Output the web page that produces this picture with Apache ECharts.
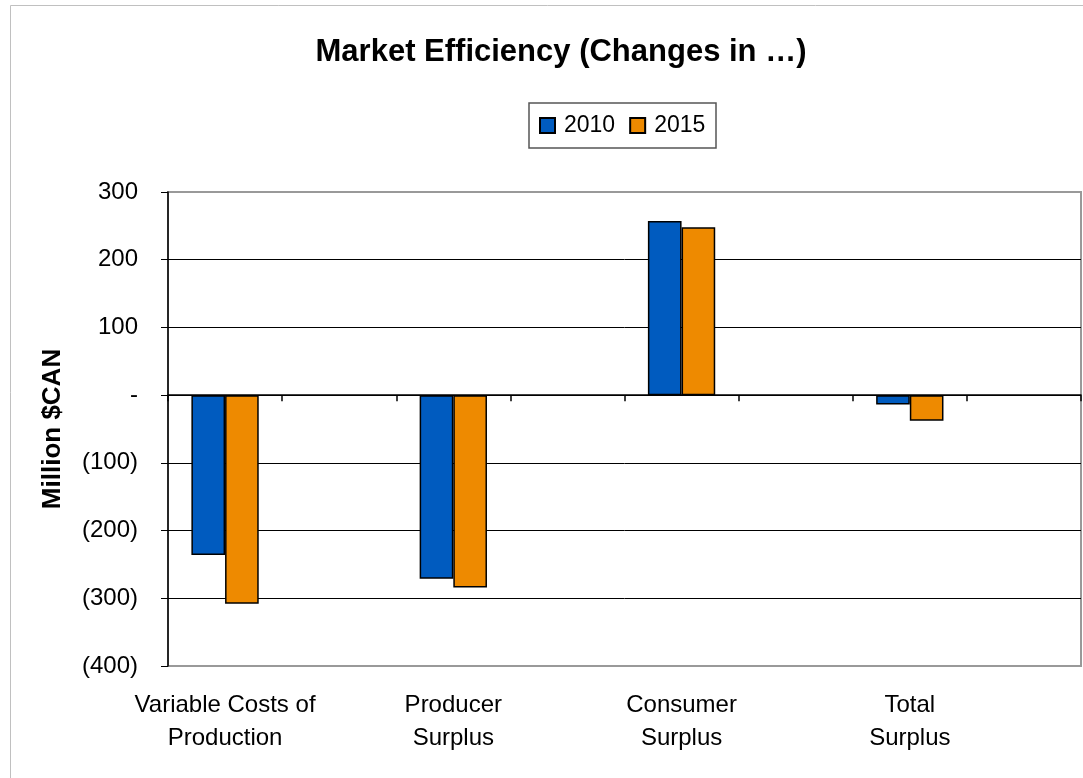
<!DOCTYPE html>
<html>
<head>
<meta charset="UTF-8">
<title>Market Efficiency</title>
<script src="https://cdn.jsdelivr.net/npm/echarts@6/dist/echarts.min.js"></script>
<style>
html, body { margin: 0; padding: 0; background: #fff; }
#chart { width: 1083px; height: 778px; }
</style>
</head>
<body>
<div id="chart"></div>
<script>
// 8 slots, every other one left empty (as in the source chart)
var categories = ['Variable Costs of\nProduction', '', 'Producer\nSurplus', '', 'Consumer\nSurplus', '', 'Total\nSurplus', ''];
var values2010 = [-236, null, -271, null, 257, null, -14, null];
var values2015 = [-308, null, -284, null, 248, null, -38, null];
var seriesNames = ['2010', '2015'];

// accounting style: 100 / - / (100)
function fmt(v) {
	if (v > 0) return String(v);
	if (v == 0) return '-';
	return '(' + Math.abs(v) + ')';
}

var myChart = echarts.init(document.getElementById('chart'));
var option = {
	animation: false,
	textStyle: { fontFamily: 'Liberation Sans, Arial, sans-serif' },
	title: {
		text: 'Market Efficiency (Changes in \u2026)',
		left: 556, top: 32, textAlign: 'center',
		textStyle: { fontSize: 31, fontWeight: 'bold', color: '#000' }
	},
	graphic: [{
		type: 'rect',
		shape: { x: 10.5, y: 5.5, width: 1100, height: 800 },
		style: { fill: 'none', stroke: '#c0c0c0', lineWidth: 1 },
		z: -1
	}, {
		type: 'rect',
		shape: { x: 529, y: 103, width: 187, height: 45 },
		style: { fill: '#fff', stroke: '#555', lineWidth: 1.5 },
		z: 0
	}],
	legend: {
		data: seriesNames,
		left: 539, top: 114, padding: 0,
		itemWidth: 15, itemHeight: 15, itemGap: 14,
		icon: 'rect',
		textStyle: { fontSize: 23, color: '#000', padding: [0, 0, 0, 4] },
		z: 5
	},
	grid: {
		left: 168, right: 2, top: 192, bottom: 112,
		show: true, borderColor: '#999', borderWidth: 2, backgroundColor: '#fff'
	},
	xAxis: [{
		type: 'category', data: categories,
		axisLine: { onZero: true, lineStyle: { color: '#000', width: 1.5 } },
		axisTick: { show: true, interval: 0, length: 6, lineStyle: { color: '#000', width: 1.5 } },
		axisLabel: { show: false },
		z: 3
	}, {
		type: 'category', data: categories, position: 'bottom',
		axisLine: { show: false, onZero: false },
		axisTick: { show: false },
		axisLabel: { show: true, interval: 0, fontSize: 24, color: '#000', lineHeight: 33, margin: 23 }
	}],
	yAxis: {
		type: 'value', min: -400, max: 300, interval: 100,
		name: 'Million $CAN', nameLocation: 'middle', nameGap: 102,
		nameTextStyle: { fontSize: 26, fontWeight: 'bold', color: '#000' },
		axisLine: { show: true, lineStyle: { color: '#000', width: 1.5 } },
		axisTick: { show: true, length: 7, lineStyle: { color: '#000' } },
		axisLabel: { fontSize: 24, color: '#000', margin: 30, formatter: fmt },
		splitLine: { showMinLine: false, showMaxLine: false, lineStyle: { color: '#000', width: 1 } }
	},
	series: [{
		name: seriesNames[0], type: 'bar', data: values2010,
		barGap: 0, barCategoryGap: '41%',
		itemStyle: { color: '#005BBF', borderColor: '#000', borderWidth: 1.5 }
	}, {
		name: seriesNames[1], type: 'bar', data: values2015,
		barGap: 0, barCategoryGap: '41%',
		itemStyle: { color: '#EE8A00', borderColor: '#000', borderWidth: 1.5 }
	}]
};
myChart.setOption(option);
</script>
</body>
</html>
